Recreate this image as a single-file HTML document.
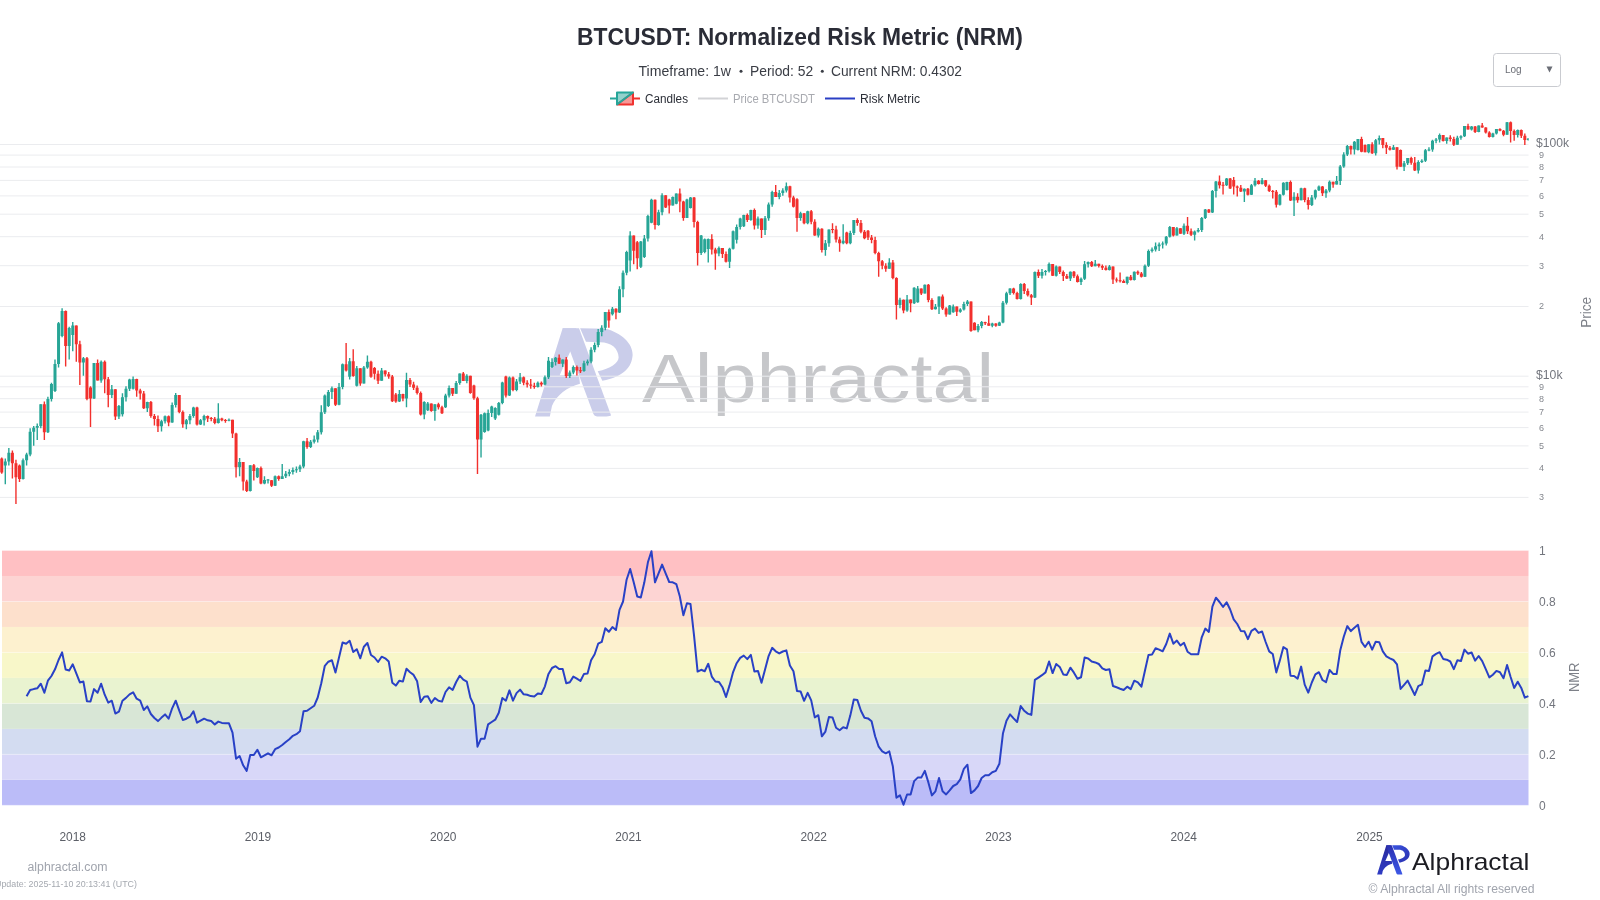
<!DOCTYPE html>
<html><head><meta charset="utf-8"><style>
html,body{margin:0;padding:0;background:#fff;width:1600px;height:900px;overflow:hidden;position:relative}
svg text{font-family:"Liberation Sans",sans-serif}
</style></head><body>
<svg width="1600" height="900" viewBox="0 0 1600 900" style="position:absolute;left:0;top:0;will-change:transform">
<defs>
<linearGradient id="lgL" x1="0" y1="0" x2="0" y2="1"><stop offset="0" stop-color="#2a2a9e"/><stop offset="1" stop-color="#2f3cc4"/></linearGradient>
<linearGradient id="lgR" x1="0" y1="0" x2="0" y2="1"><stop offset="0" stop-color="#2b30b0"/><stop offset="1" stop-color="#3d58e6"/></linearGradient>
<linearGradient id="lgB" x1="0" y1="0" x2="1" y2="1"><stop offset="0" stop-color="#3a55e0"/><stop offset="1" stop-color="#2a2fae"/></linearGradient>
<g id="apL"><path d="M115,778 L322,116 L425,116 L379,291 L300,470 L445,470 L452,532 C360,555 272,620 242,700 L226,778 Z"/></g>
<g id="apR"><path d="M322,116 L445,116 L685,770 Q680,778 650,778 L580,778 Q560,776 553,760 L379,291 Z"/></g>
<g id="apB"><path d="M453,116 L646,120 C760,150 850,230 847,317 C840,410 780,480 620,510 L585,440 C680,420 742,380 742,335 C740,270 690,221 602,221 L497,217 Z"/></g>
</defs>
<g transform="translate(519.7,312.7) scale(0.13333)" fill="#cacdea"><use href="#apL"/><use href="#apR"/><use href="#apB"/></g>
<text x="642" y="401.9" font-size="69" fill="#c6c7ca" textLength="352" lengthAdjust="spacingAndGlyphs">Alphractal</text>
<line x1="0" x2="1528.5" y1="497.4" y2="497.4" stroke="#ebecef" stroke-width="1"/>
<text x="1539" y="500.3" font-size="9" fill="#84878e">3</text>
<line x1="0" x2="1528.5" y1="468.4" y2="468.4" stroke="#ebecef" stroke-width="1"/>
<text x="1539" y="471.3" font-size="9" fill="#84878e">4</text>
<line x1="0" x2="1528.5" y1="445.9" y2="445.9" stroke="#ebecef" stroke-width="1"/>
<text x="1539" y="448.8" font-size="9" fill="#84878e">5</text>
<line x1="0" x2="1528.5" y1="427.6" y2="427.6" stroke="#ebecef" stroke-width="1"/>
<text x="1539" y="430.5" font-size="9" fill="#84878e">6</text>
<line x1="0" x2="1528.5" y1="412.1" y2="412.1" stroke="#ebecef" stroke-width="1"/>
<text x="1539" y="415.0" font-size="9" fill="#84878e">7</text>
<line x1="0" x2="1528.5" y1="398.7" y2="398.7" stroke="#ebecef" stroke-width="1"/>
<text x="1539" y="401.6" font-size="9" fill="#84878e">8</text>
<line x1="0" x2="1528.5" y1="386.8" y2="386.8" stroke="#ebecef" stroke-width="1"/>
<text x="1539" y="389.7" font-size="9" fill="#84878e">9</text>
<line x1="0" x2="1528.5" y1="376.2" y2="376.2" stroke="#ebecef" stroke-width="1"/>
<text x="1536" y="378.8" font-size="13" fill="#73767e" textLength="26.5" lengthAdjust="spacingAndGlyphs">$10k</text>
<line x1="0" x2="1528.5" y1="306.5" y2="306.5" stroke="#ebecef" stroke-width="1"/>
<text x="1539" y="309.4" font-size="9" fill="#84878e">2</text>
<line x1="0" x2="1528.5" y1="265.7" y2="265.7" stroke="#ebecef" stroke-width="1"/>
<text x="1539" y="268.6" font-size="9" fill="#84878e">3</text>
<line x1="0" x2="1528.5" y1="236.7" y2="236.7" stroke="#ebecef" stroke-width="1"/>
<text x="1539" y="239.6" font-size="9" fill="#84878e">4</text>
<line x1="0" x2="1528.5" y1="214.2" y2="214.2" stroke="#ebecef" stroke-width="1"/>
<text x="1539" y="217.1" font-size="9" fill="#84878e">5</text>
<line x1="0" x2="1528.5" y1="195.9" y2="195.9" stroke="#ebecef" stroke-width="1"/>
<text x="1539" y="198.8" font-size="9" fill="#84878e">6</text>
<line x1="0" x2="1528.5" y1="180.4" y2="180.4" stroke="#ebecef" stroke-width="1"/>
<text x="1539" y="183.3" font-size="9" fill="#84878e">7</text>
<line x1="0" x2="1528.5" y1="167.0" y2="167.0" stroke="#ebecef" stroke-width="1"/>
<text x="1539" y="169.9" font-size="9" fill="#84878e">8</text>
<line x1="0" x2="1528.5" y1="155.1" y2="155.1" stroke="#ebecef" stroke-width="1"/>
<text x="1539" y="158.0" font-size="9" fill="#84878e">9</text>
<line x1="0" x2="1528.5" y1="144.5" y2="144.5" stroke="#ebecef" stroke-width="1"/>
<text x="1536" y="147.1" font-size="13" fill="#73767e" textLength="33" lengthAdjust="spacingAndGlyphs">$100k</text>
<rect x="2" y="779.82" width="1526.5" height="25.48" fill="#bbbcf8"/>
<rect x="2" y="754.34" width="1526.5" height="25.48" fill="#d8d7f8"/>
<rect x="2" y="728.86" width="1526.5" height="25.48" fill="#d3dcf1"/>
<rect x="2" y="703.38" width="1526.5" height="25.48" fill="#d8e6d6"/>
<rect x="2" y="677.90" width="1526.5" height="25.48" fill="#e9f3d0"/>
<rect x="2" y="652.42" width="1526.5" height="25.48" fill="#f8f7c9"/>
<rect x="2" y="626.94" width="1526.5" height="25.48" fill="#fdf1cf"/>
<rect x="2" y="601.46" width="1526.5" height="25.48" fill="#fde0cc"/>
<rect x="2" y="575.98" width="1526.5" height="25.48" fill="#fdd4d3"/>
<rect x="2" y="550.50" width="1526.5" height="25.48" fill="#ffc0c3"/>
<line x1="2" x2="1528.5" y1="805.3" y2="805.3" stroke="#ffffff" stroke-opacity="0.3" stroke-width="1"/>
<text x="1539" y="809.6" font-size="12" fill="#73767e">0</text>
<line x1="2" x2="1528.5" y1="754.3" y2="754.3" stroke="#ffffff" stroke-opacity="0.3" stroke-width="1"/>
<text x="1539" y="758.6" font-size="12" fill="#73767e">0.2</text>
<line x1="2" x2="1528.5" y1="703.4" y2="703.4" stroke="#ffffff" stroke-opacity="0.3" stroke-width="1"/>
<text x="1539" y="707.7" font-size="12" fill="#73767e">0.4</text>
<line x1="2" x2="1528.5" y1="652.4" y2="652.4" stroke="#ffffff" stroke-opacity="0.3" stroke-width="1"/>
<text x="1539" y="656.7" font-size="12" fill="#73767e">0.6</text>
<line x1="2" x2="1528.5" y1="601.5" y2="601.5" stroke="#ffffff" stroke-opacity="0.3" stroke-width="1"/>
<text x="1539" y="605.8" font-size="12" fill="#73767e">0.8</text>
<line x1="2" x2="1528.5" y1="550.5" y2="550.5" stroke="#ffffff" stroke-opacity="0.3" stroke-width="1"/>
<text x="1539" y="554.8" font-size="12" fill="#73767e">1</text>
<text x="72.75" y="840.9" font-size="12.5" fill="#5d6068" text-anchor="middle" textLength="26.5" lengthAdjust="spacingAndGlyphs">2018</text>
<text x="258" y="840.9" font-size="12.5" fill="#5d6068" text-anchor="middle" textLength="26.5" lengthAdjust="spacingAndGlyphs">2019</text>
<text x="443.25" y="840.9" font-size="12.5" fill="#5d6068" text-anchor="middle" textLength="26.5" lengthAdjust="spacingAndGlyphs">2020</text>
<text x="628.5" y="840.9" font-size="12.5" fill="#5d6068" text-anchor="middle" textLength="26.5" lengthAdjust="spacingAndGlyphs">2021</text>
<text x="813.75" y="840.9" font-size="12.5" fill="#5d6068" text-anchor="middle" textLength="26.5" lengthAdjust="spacingAndGlyphs">2022</text>
<text x="998.5" y="840.9" font-size="12.5" fill="#5d6068" text-anchor="middle" textLength="26.5" lengthAdjust="spacingAndGlyphs">2023</text>
<text x="1183.75" y="840.9" font-size="12.5" fill="#5d6068" text-anchor="middle" textLength="26.5" lengthAdjust="spacingAndGlyphs">2024</text>
<text x="1369.5" y="840.9" font-size="12.5" fill="#5d6068" text-anchor="middle" textLength="26.5" lengthAdjust="spacingAndGlyphs">2025</text>
<text x="0" y="0" font-size="15" fill="#7d8088" text-anchor="middle" textLength="31" lengthAdjust="spacingAndGlyphs" transform="translate(1590.8,312.3) rotate(-90)">Price</text>
<text x="0" y="0" font-size="14.5" fill="#7d8088" text-anchor="middle" textLength="29.6" lengthAdjust="spacingAndGlyphs" transform="translate(1578.5,677.3) rotate(-90)">NMR</text>
<text x="577" y="44.9" font-size="23.4" fill="#2a2c36" font-weight="bold" textLength="446" lengthAdjust="spacingAndGlyphs">BTCUSDT: Normalized Risk Metric (NRM)</text>
<text x="638.5" y="75.85" font-size="14.5" fill="#3a3d45" textLength="92.5" lengthAdjust="spacingAndGlyphs">Timeframe: 1w</text>
<circle cx="741" cy="71.2" r="1.5" fill="#3a3d45"/>
<text x="750" y="75.85" font-size="14.5" fill="#3a3d45" textLength="63.2" lengthAdjust="spacingAndGlyphs">Period: 52</text>
<circle cx="822.3" cy="71.2" r="1.5" fill="#3a3d45"/>
<text x="831" y="75.85" font-size="14.5" fill="#3a3d45" textLength="131" lengthAdjust="spacingAndGlyphs">Current NRM: 0.4302</text>
<g transform="translate(625,98.5)" stroke-width="2" stroke-linejoin="round"><path d="M15,0H8M8,-6V6H-8Z" stroke="#f0322f" fill="rgba(240,50,47,0.5)"/><path d="M-15,0H-8M-8,6V-6H8Z" stroke="#26a69a" fill="rgba(38,166,154,0.5)"/></g>
<text x="645" y="102.5" font-size="12" fill="#2b2e37" textLength="43" lengthAdjust="spacingAndGlyphs">Candles</text>
<line x1="698" x2="728" y1="98.5" y2="98.5" stroke="#d2d3d6" stroke-width="2"/>
<text x="733" y="102.5" font-size="12" fill="#a8aab0" textLength="82" lengthAdjust="spacingAndGlyphs">Price BTCUSDT</text>
<line x1="825" x2="855" y1="98.5" y2="98.5" stroke="#2a3fc4" stroke-width="2"/>
<text x="860" y="102.5" font-size="12" fill="#2b2e37" textLength="60" lengthAdjust="spacingAndGlyphs">Risk Metric</text>
<rect x="1493.5" y="53.5" width="67" height="33" rx="3" fill="#fff" stroke="#c9cbd0" stroke-width="1"/>
<text x="1505" y="73" font-size="10" fill="#6b6e76">Log</text>
<path d="M1546.5,66.5h6l-3,6z" fill="#6b6e76"/>
<text x="27.5" y="870.75" font-size="12.5" fill="#a0a4ad" textLength="80" lengthAdjust="spacingAndGlyphs">alphractal.com</text>
<text x="-5" y="886.5" font-size="9" fill="#a5a9b0" textLength="142" lengthAdjust="spacingAndGlyphs">Update: 2025-11-10 20:13:41 (UTC)</text>
<text x="1368.5" y="892.5" font-size="12.8" fill="#a0a4ad" textLength="166" lengthAdjust="spacingAndGlyphs">© Alphractal All rights reserved</text>
<g transform="translate(1372,840) scale(0.04444)"><use href="#apL" fill="url(#lgL)"/><use href="#apR" fill="url(#lgR)"/><use href="#apB" fill="url(#lgB)"/></g>
<text x="1412" y="869.75" font-size="24" fill="#1c1c22" textLength="117.5" lengthAdjust="spacingAndGlyphs">Alphractal</text>
<defs><clipPath id="pc"><rect x="0" y="110" width="1528.5" height="400"/></clipPath></defs>
<g clip-path="url(#pc)">
<path d="M5.29 458.5V484.2M8.84 448.1V465.5M23.05 458.5V479.5M26.60 452.7V465.5M30.15 428.2V456.2M33.70 425.9V445.7M37.25 423.6V439.9M40.80 404.3V428.2M47.90 396.8V432.9M51.45 382.8V401.4M55.00 359.5V392.1M58.55 322.1V367.6M62.10 308.2V337.3M69.20 326.8V359.5M72.75 322.1V351.3M83.40 357.1V375.8M94.05 363.0V399.1M101.15 360.6V382.8M111.80 385.1V397.9M118.90 404.9V418.9M122.45 393.3V416.6M126.00 386.3V401.4M129.55 378.7V390.9M133.11 376.5V389.5M147.31 401.8V411.9M161.51 419.8V431.4M165.06 415.5V423.5M172.16 402.5V422.7M175.71 393.1V407.6M186.36 419.1V429.2M189.91 414.1V424.2M193.46 406.8V417.7M200.56 419.1V424.9M204.11 414.8V425.6M218.31 403.2V423.5M228.96 418.4V421.3M239.61 458.1V476.2M250.26 465.3V491.4M257.37 467.4V478.1M264.47 476.3V484.3M268.02 479.0V483.4M275.12 475.4V486.1M282.22 463.9V479.0M285.77 471.0V478.1M289.32 469.2V476.3M292.87 467.4V474.6M296.42 466.6V472.8M299.97 464.8V471.9M303.52 440.8V468.3M310.62 439.9V447.9M314.17 435.4V443.4M317.72 430.1V442.6M321.27 405.2V434.6M324.82 394.6V414.1M328.37 390.1V407.0M331.92 386.6V399.0M339.02 383.0V405.2M342.57 363.4V389.2M349.67 358.1V379.4M356.77 366.1V386.6M363.87 366.1V383.4M367.42 355.4V368.8M381.63 367.9V380.8M399.38 390.0V402.0M406.48 372.8V407.3M424.23 401.3V419.3M427.78 402.0V411.0M434.88 404.3V420.8M445.53 393.8V408.0M449.08 385.5V397.5M456.18 381.0V393.8M459.73 373.5V384.8M466.83 374.3V383.3M481.03 414.0V457.5M484.58 412.5V432.8M488.14 409.5V431.3M491.69 405.8V417.0M495.24 407.3V420.0M498.79 402.0V415.5M502.34 381.8V404.3M509.44 376.5V396.0M516.54 379.1V391.3M520.09 373.0V384.0M537.84 381.5V387.6M544.94 375.4V385.2M548.49 357.1V379.1M552.04 358.3V368.1M555.59 357.1V365.6M562.69 359.5V366.9M569.79 370.5V377.9M573.34 365.6V374.2M583.99 360.8V371.7M587.54 359.5V365.6M591.09 347.3V363.2M594.64 342.4V352.2M598.19 329.0V347.3M601.74 325.3V336.3M605.29 311.9V330.2M612.40 307.0V315.6M619.50 286.3V313.1M623.05 270.4V297.2M626.60 250.8V275.3M630.15 231.3V271.6M640.80 241.0V267.9M644.35 234.9V258.1M647.90 214.7V241.6M651.45 198.8V223.3M658.55 209.8V225.7M662.10 193.3V215.3M672.75 196.4V205.6M676.30 193.6V204.3M686.95 198.8V218.1M690.50 197.0V208.6M701.15 234.9V255.1M704.70 238.6V253.2M708.25 238.6V262.4M718.90 246.5V256.3M729.56 247.7V267.9M733.11 230.6V249.6M736.66 224.5V243.5M740.21 217.8V229.4M743.76 214.7V227.0M750.86 209.8V220.8M757.96 216.6V228.8M765.06 216.0V234.9M768.61 202.5V220.8M772.16 190.8V206.7M779.26 190.0V199.2M782.81 188.3V195.8M786.36 182.5V192.5M800.56 211.7V220.8M807.66 210.8V224.2M818.31 227.5V237.5M825.41 240.0V255.8M828.96 229.6V246.7M843.17 224.2V244.2M850.27 230.8V244.2M853.82 220.0V235.0M889.32 258.3V268.8M899.97 297.8V308.3M907.07 295.0V311.7M914.17 287.2V303.9M917.72 286.1V302.8M924.82 284.4V293.6M935.47 303.9V309.4M939.02 296.4V313.9M949.67 305.0V314.4M953.22 304.4V312.8M960.33 308.3V312.8M963.88 301.7V310.6M967.43 300.0V306.1M978.08 323.9V332.2M981.63 321.1V328.3M992.28 322.8V327.2M999.38 321.7V326.1M1002.93 301.1V323.3M1006.48 291.7V304.4M1010.03 288.3V295.0M1020.68 283.3V299.4M1034.88 271.5V298.0M1041.98 269.0V278.5M1045.53 270.0V275.5M1049.08 262.5V272.5M1056.18 265.5V276.5M1070.38 271.5V281.0M1081.04 277.5V285.0M1084.59 261.0V280.0M1088.14 261.5V267.5M1095.24 260.0V266.2M1109.44 265.0V270.5M1127.19 276.8V284.5M1134.29 271.5V280.5M1144.94 264.5V277.0M1148.49 249.5V267.0M1152.04 247.5V252.5M1155.59 242.5V251.5M1159.14 242.5V251.0M1162.69 241.5V248.5M1166.24 236.0V245.5M1169.79 226.0V237.5M1176.89 227.0V235.5M1183.99 223.5V235.0M1194.64 230.5V240.5M1198.20 228.0V232.5M1201.75 217.0V232.0M1205.30 209.0V219.0M1212.40 190.0V213.0M1215.95 181.0V197.5M1226.60 178.0V186.0M1244.35 188.5V202.0M1251.45 184.0V195.0M1255.00 178.0V186.5M1262.10 178.0V184.5M1279.85 193.9V205.6M1283.40 182.2V195.6M1286.95 181.7V190.6M1294.05 192.2V216.1M1301.15 187.8V200.3M1311.80 195.0V206.1M1315.36 189.4V199.4M1318.91 185.6V191.1M1326.01 188.9V197.8M1329.56 180.6V192.2M1336.66 176.1V184.4M1340.21 165.0V185.0M1343.76 152.2V167.8M1347.31 145.0V156.1M1354.41 141.1V154.4M1357.96 138.9V150.6M1368.61 144.2V153.3M1375.71 138.9V155.6M1379.26 135.6V144.4M1393.46 145.0V150.0M1404.11 161.1V171.1M1407.66 158.0V165.1M1418.31 160.2V173.6M1421.86 159.3V162.9M1425.41 149.1V162.0M1428.96 147.3V151.3M1432.51 139.8V151.8M1436.07 138.0V143.3M1439.62 133.6V142.4M1446.72 137.6V143.8M1457.37 135.8V144.7M1460.92 135.3V139.8M1464.47 126.0V137.1M1471.57 126.0V130.4M1478.67 125.6V132.2M1492.87 132.7V137.6M1496.42 129.1V134.4M1507.07 122.0V134.7M1517.72 129.6V137.6M1528.37 138.0V140.7" stroke="#27a596" stroke-width="1.4" fill="none"/>
<path d="M1.74 457.4V473.7M12.39 450.4V478.4M15.95 459.7V504.0M19.50 464.4V481.9M44.35 401.4V439.9M65.65 310.5V366.4M76.30 325.6V361.8M79.85 340.8V385.1M86.95 357.1V400.3M90.50 386.3V427.1M97.60 359.5V380.4M104.70 360.6V393.3M108.25 376.9V407.3M115.35 389.2V420.1M136.66 378.7V396.7M140.21 388.8V399.6M143.76 390.9V409.0M150.86 401.1V417.7M154.41 414.1V425.6M157.96 415.5V432.1M168.61 415.5V426.3M179.26 394.9V413.3M182.81 410.5V427.8M197.01 406.8V425.6M207.66 415.5V422.0M211.21 417.0V421.3M214.76 417.0V424.2M221.86 417.7V421.3M225.41 419.1V422.7M232.51 419.8V437.9M236.06 432.8V477.6M243.16 462.1V490.6M246.71 479.8V492.1M253.82 463.9V480.5M260.92 466.6V484.3M271.57 479.9V487.0M278.67 475.4V480.8M307.07 438.1V448.8M335.47 388.3V406.1M346.12 343.0V371.4M353.22 349.2V376.8M360.32 368.3V385.7M370.98 360.8V377.7M374.53 367.0V379.4M378.08 370.6V383.9M385.18 370.4V376.5M388.73 372.0V378.8M392.28 375.0V402.0M395.83 393.0V402.8M402.93 393.8V401.3M410.03 378.0V387.0M413.58 381.8V390.0M417.13 385.5V394.5M420.68 391.5V415.5M431.33 403.5V411.8M438.43 402.8V409.5M441.98 405.8V414.0M452.63 388.1V396.0M463.28 372.0V381.0M470.38 375.8V393.8M473.93 384.8V399.8M477.48 396.8V474.1M505.89 375.8V397.5M512.99 376.6V391.3M523.64 376.6V385.2M527.19 380.3V387.6M530.74 379.1V388.8M534.29 382.7V388.8M541.39 381.5V386.4M559.14 354.6V363.8M566.24 357.1V377.9M576.89 365.6V375.4M580.44 366.9V373.0M608.85 309.5V327.8M615.95 308.2V319.2M633.70 235.6V264.3M637.25 241.1V269.2M655.00 199.4V229.4M665.65 195.2V208.0M669.20 198.8V213.5M679.85 188.4V212.3M683.40 200.7V220.8M694.05 197.0V227.6M697.60 220.8V265.5M711.80 234.3V254.5M715.35 247.7V269.7M722.45 248.0V258.1M726.01 251.4V262.4M747.31 213.5V222.1M754.41 208.6V229.4M761.51 218.4V238.0M775.71 185.0V197.1M789.91 185.8V202.5M793.46 195.8V207.5M797.01 198.3V231.7M804.11 213.3V224.2M811.21 210.0V224.2M814.76 219.2V235.8M821.86 228.3V252.5M832.51 223.3V233.3M836.06 225.8V242.5M839.61 236.7V251.7M846.72 231.7V244.2M857.37 218.3V225.8M860.92 220.0V233.3M864.47 230.0V239.2M868.02 230.0V240.0M871.57 235.0V243.3M875.12 236.7V254.2M878.67 251.7V276.7M882.22 260.0V269.2M885.77 263.3V271.7M892.87 260.0V279.2M896.42 277.2V319.4M903.52 299.4V313.3M910.62 299.4V312.2M921.27 288.6V295.0M928.37 283.9V302.2M931.92 298.3V310.0M942.57 294.4V310.0M946.12 307.2V316.7M956.77 306.4V316.1M970.98 301.4V331.7M974.53 322.2V330.3M985.18 321.7V325.0M988.73 315.6V325.8M995.83 323.3V326.7M1013.58 287.8V294.4M1017.13 291.7V299.4M1024.23 283.0V294.0M1027.78 288.5V296.5M1031.33 294.0V305.0M1038.43 269.5V278.0M1052.63 264.0V276.0M1059.73 266.5V274.0M1063.28 270.5V281.0M1066.83 274.0V279.0M1073.93 271.0V278.0M1077.48 274.5V282.5M1091.69 261.0V267.0M1098.79 263.8V267.5M1102.34 264.5V270.0M1105.89 265.5V270.5M1112.99 266.5V284.0M1116.54 277.5V282.5M1120.09 272.5V282.5M1123.64 279.5V283.0M1130.74 275.0V280.5M1137.84 270.5V275.0M1141.39 272.0V277.5M1173.34 227.0V236.5M1180.44 228.2V233.8M1187.54 217.0V234.0M1191.09 228.5V236.0M1208.85 209.0V213.0M1219.50 175.5V188.5M1223.05 182.0V194.5M1230.15 178.0V189.0M1233.70 177.0V194.5M1237.25 185.5V196.5M1240.80 185.0V192.0M1247.90 188.0V195.5M1258.55 180.0V184.5M1265.65 180.0V187.0M1269.20 184.5V192.0M1272.75 190.0V198.5M1276.30 190.0V207.5M1290.50 180.6V201.1M1297.60 193.3V202.8M1304.70 187.8V202.2M1308.25 197.2V209.4M1322.46 186.1V196.1M1333.11 181.7V187.8M1350.86 145.6V154.4M1361.51 136.7V152.2M1365.06 144.4V152.2M1372.16 142.2V153.9M1382.81 138.1V148.3M1386.36 142.2V153.9M1389.91 146.1V150.6M1397.01 147.2V169.4M1400.56 149.4V166.7M1411.21 156.7V164.7M1414.76 157.1V170.9M1443.17 134.9V141.6M1450.27 135.3V141.6M1453.82 136.7V146.0M1468.02 123.8V129.6M1475.12 126.0V133.1M1482.22 122.9V127.8M1485.77 127.3V133.6M1489.32 131.3V137.6M1499.97 128.2V131.3M1503.52 130.0V136.2M1510.62 121.6V142.4M1514.17 129.6V140.7M1521.27 129.6V138.0M1524.82 133.6V145.1" stroke="#f2302d" stroke-width="1.4" fill="none"/>
<path d="M3.79 461.5h3.0V465.5h-3.0ZM7.34 452.7h3.0V461.5h-3.0ZM21.55 460.3h3.0V478.9h-3.0ZM25.10 454.5h3.0V460.3h-3.0ZM28.65 431.7h3.0V454.5h-3.0ZM32.20 427.7h3.0V431.7h-3.0ZM35.75 425.9h3.0V427.7h-3.0ZM39.30 404.3h3.0V425.9h-3.0ZM46.40 399.1h3.0V432.3h-3.0ZM49.95 383.9h3.0V399.1h-3.0ZM53.50 364.1h3.0V390.9h-3.0ZM57.05 323.3h3.0V364.1h-3.0ZM60.60 311.1h3.0V336.1h-3.0ZM67.70 328.0h3.0V346.0h-3.0ZM71.25 325.6h3.0V335.0h-3.0ZM81.90 358.3h3.0V362.4h-3.0ZM92.55 363.0h3.0V398.5h-3.0ZM99.65 361.8h3.0V380.4h-3.0ZM110.30 389.2h3.0V395.0h-3.0ZM117.40 406.1h3.0V416.6h-3.0ZM120.95 397.3h3.0V414.2h-3.0ZM124.50 388.8h3.0V397.3h-3.0ZM128.05 379.4h3.0V388.8h-3.0ZM131.61 379.0h3.0V388.8h-3.0ZM145.81 402.1h3.0V408.3h-3.0ZM160.01 421.3h3.0V426.3h-3.0ZM163.56 416.2h3.0V421.3h-3.0ZM170.66 405.0h3.0V422.4h-3.0ZM174.21 394.9h3.0V405.0h-3.0ZM184.86 420.2h3.0V424.2h-3.0ZM188.41 415.9h3.0V420.2h-3.0ZM191.96 407.6h3.0V415.9h-3.0ZM199.06 420.2h3.0V424.5h-3.0ZM202.61 415.9h3.0V420.2h-3.0ZM216.81 418.4h3.0V423.1h-3.0ZM227.46 419.8h3.0V420.8h-3.0ZM238.11 462.1h3.0V467.2h-3.0ZM248.76 465.3h3.0V491.0h-3.0ZM255.87 467.9h3.0V477.2h-3.0ZM262.97 479.9h3.0V483.4h-3.0ZM266.52 479.6h3.0V480.6h-3.0ZM273.62 476.3h3.0V485.7h-3.0ZM280.72 476.3h3.0V479.0h-3.0ZM284.27 473.7h3.0V476.3h-3.0ZM287.82 471.9h3.0V473.7h-3.0ZM291.37 470.1h3.0V471.9h-3.0ZM294.92 469.2h3.0V470.2h-3.0ZM298.47 466.6h3.0V469.2h-3.0ZM302.02 441.2h3.0V466.6h-3.0ZM309.12 441.7h3.0V447.0h-3.0ZM312.67 439.4h3.0V441.7h-3.0ZM316.22 432.3h3.0V439.4h-3.0ZM319.77 412.3h3.0V432.3h-3.0ZM323.32 395.4h3.0V412.3h-3.0ZM326.87 391.9h3.0V406.1h-3.0ZM330.42 388.3h3.0V391.9h-3.0ZM337.52 387.0h3.0V404.8h-3.0ZM341.07 364.3h3.0V387.0h-3.0ZM348.17 361.2h3.0V376.8h-3.0ZM355.27 368.3h3.0V385.7h-3.0ZM362.37 367.4h3.0V383.4h-3.0ZM365.92 361.7h3.0V367.4h-3.0ZM380.13 370.4h3.0V380.8h-3.0ZM397.88 394.1h3.0V401.6h-3.0ZM404.98 379.9h3.0V398.6h-3.0ZM422.73 402.0h3.0V414.4h-3.0ZM426.28 403.5h3.0V410.3h-3.0ZM433.38 404.3h3.0V411.0h-3.0ZM444.03 395.6h3.0V407.3h-3.0ZM447.58 388.1h3.0V395.6h-3.0ZM454.68 382.9h3.0V393.8h-3.0ZM458.23 373.5h3.0V382.9h-3.0ZM465.33 375.8h3.0V381.0h-3.0ZM479.53 414.8h3.0V439.5h-3.0ZM483.08 413.3h3.0V432.0h-3.0ZM486.64 412.9h3.0V430.5h-3.0ZM490.19 406.5h3.0V412.9h-3.0ZM493.74 408.0h3.0V418.5h-3.0ZM497.29 403.1h3.0V414.8h-3.0ZM500.84 382.5h3.0V403.1h-3.0ZM507.94 377.6h3.0V395.6h-3.0ZM515.04 381.5h3.0V390.1h-3.0ZM518.59 377.2h3.0V381.5h-3.0ZM536.34 382.7h3.0V387.0h-3.0ZM543.44 377.2h3.0V384.6h-3.0ZM546.99 360.8h3.0V377.2h-3.0ZM550.54 362.0h3.0V366.9h-3.0ZM554.09 357.7h3.0V362.0h-3.0ZM561.19 359.5h3.0V363.8h-3.0ZM568.29 372.4h3.0V376.0h-3.0ZM571.84 366.9h3.0V372.4h-3.0ZM582.49 363.2h3.0V371.1h-3.0ZM586.04 361.4h3.0V363.2h-3.0ZM589.59 349.8h3.0V361.4h-3.0ZM593.14 344.9h3.0V349.8h-3.0ZM596.69 332.1h3.0V344.9h-3.0ZM600.24 327.8h3.0V332.1h-3.0ZM603.79 311.9h3.0V327.8h-3.0ZM610.90 308.8h3.0V314.3h-3.0ZM618.00 289.3h3.0V312.5h-3.0ZM621.55 272.8h3.0V289.3h-3.0ZM625.10 252.1h3.0V272.8h-3.0ZM628.65 235.6h3.0V260.6h-3.0ZM639.30 241.6h3.0V266.7h-3.0ZM642.85 238.6h3.0V256.9h-3.0ZM646.40 216.0h3.0V238.6h-3.0ZM649.95 199.8h3.0V222.7h-3.0ZM657.05 212.3h3.0V225.1h-3.0ZM660.60 195.2h3.0V212.3h-3.0ZM671.25 197.0h3.0V205.6h-3.0ZM674.80 193.6h3.0V203.7h-3.0ZM685.45 199.4h3.0V218.1h-3.0ZM689.00 197.6h3.0V208.0h-3.0ZM699.65 235.5h3.0V252.9h-3.0ZM703.20 239.2h3.0V252.0h-3.0ZM706.75 238.9h3.0V249.0h-3.0ZM717.40 248.0h3.0V253.5h-3.0ZM728.06 248.7h3.0V261.8h-3.0ZM731.61 231.2h3.0V248.7h-3.0ZM735.16 227.0h3.0V239.8h-3.0ZM738.71 218.4h3.0V227.0h-3.0ZM742.26 215.0h3.0V226.3h-3.0ZM749.36 210.1h3.0V219.9h-3.0ZM756.46 218.4h3.0V225.4h-3.0ZM763.56 218.3h3.0V230.0h-3.0ZM767.11 204.6h3.0V218.3h-3.0ZM770.66 192.1h3.0V204.6h-3.0ZM777.76 192.9h3.0V197.1h-3.0ZM781.31 190.4h3.0V192.9h-3.0ZM784.86 186.2h3.0V190.4h-3.0ZM799.06 213.3h3.0V217.9h-3.0ZM806.16 211.2h3.0V223.3h-3.0ZM816.81 228.8h3.0V235.4h-3.0ZM823.91 243.3h3.0V250.0h-3.0ZM827.46 229.6h3.0V243.3h-3.0ZM841.67 240.8h3.0V243.3h-3.0ZM848.77 232.9h3.0V243.3h-3.0ZM852.32 220.0h3.0V232.9h-3.0ZM887.82 262.5h3.0V268.8h-3.0ZM898.47 299.7h3.0V305.0h-3.0ZM905.57 299.4h3.0V310.6h-3.0ZM912.67 287.8h3.0V303.3h-3.0ZM916.22 288.6h3.0V302.2h-3.0ZM923.32 284.7h3.0V293.6h-3.0ZM933.97 306.7h3.0V309.2h-3.0ZM937.52 296.4h3.0V306.7h-3.0ZM948.17 305.6h3.0V314.4h-3.0ZM951.72 306.4h3.0V312.2h-3.0ZM958.83 309.4h3.0V311.7h-3.0ZM962.38 303.9h3.0V309.4h-3.0ZM965.93 301.4h3.0V303.9h-3.0ZM976.58 326.1h3.0V330.3h-3.0ZM980.13 321.9h3.0V326.1h-3.0ZM990.78 323.6h3.0V325.8h-3.0ZM997.88 322.5h3.0V325.8h-3.0ZM1001.43 302.8h3.0V322.5h-3.0ZM1004.98 293.3h3.0V302.8h-3.0ZM1008.53 288.6h3.0V293.3h-3.0ZM1019.18 283.9h3.0V298.9h-3.0ZM1033.38 272.0h3.0V297.5h-3.0ZM1040.48 272.0h3.0V275.8h-3.0ZM1044.03 271.1h3.0V272.1h-3.0ZM1047.58 264.0h3.0V271.2h-3.0ZM1054.68 266.5h3.0V275.8h-3.0ZM1068.88 271.8h3.0V278.5h-3.0ZM1079.54 278.8h3.0V282.0h-3.0ZM1083.09 264.2h3.0V278.8h-3.0ZM1086.64 262.0h3.0V264.2h-3.0ZM1093.74 263.8h3.0V266.2h-3.0ZM1107.94 266.5h3.0V270.0h-3.0ZM1125.69 276.8h3.0V283.0h-3.0ZM1132.79 271.8h3.0V280.0h-3.0ZM1143.44 265.8h3.0V276.8h-3.0ZM1146.99 251.0h3.0V265.8h-3.0ZM1150.54 249.5h3.0V251.0h-3.0ZM1154.09 246.2h3.0V249.5h-3.0ZM1157.64 244.5h3.0V246.2h-3.0ZM1161.19 243.5h3.0V244.5h-3.0ZM1164.74 236.8h3.0V243.5h-3.0ZM1168.29 227.0h3.0V236.8h-3.0ZM1175.39 228.2h3.0V235.5h-3.0ZM1182.49 225.8h3.0V233.8h-3.0ZM1193.14 231.5h3.0V234.8h-3.0ZM1196.70 230.0h3.0V231.5h-3.0ZM1200.25 218.0h3.0V230.0h-3.0ZM1203.80 209.5h3.0V218.0h-3.0ZM1210.90 191.0h3.0V212.5h-3.0ZM1214.45 181.5h3.0V191.0h-3.0ZM1225.10 178.5h3.0V185.2h-3.0ZM1242.85 188.8h3.0V191.5h-3.0ZM1249.95 185.2h3.0V194.8h-3.0ZM1253.50 180.8h3.0V185.2h-3.0ZM1260.60 180.2h3.0V184.0h-3.0ZM1278.35 194.7h3.0V204.8h-3.0ZM1281.90 182.8h3.0V194.7h-3.0ZM1285.45 181.9h3.0V190.0h-3.0ZM1292.55 196.7h3.0V200.6h-3.0ZM1299.65 188.3h3.0V200.3h-3.0ZM1310.30 197.5h3.0V205.0h-3.0ZM1313.86 190.3h3.0V197.5h-3.0ZM1317.41 186.4h3.0V190.3h-3.0ZM1324.51 190.6h3.0V193.3h-3.0ZM1328.06 181.7h3.0V190.6h-3.0ZM1335.16 181.1h3.0V184.4h-3.0ZM1338.71 166.4h3.0V181.1h-3.0ZM1342.26 154.4h3.0V166.4h-3.0ZM1345.81 146.1h3.0V154.4h-3.0ZM1352.91 141.7h3.0V149.4h-3.0ZM1356.46 138.9h3.0V150.0h-3.0ZM1367.11 144.2h3.0V152.2h-3.0ZM1374.21 140.3h3.0V153.3h-3.0ZM1377.76 138.1h3.0V140.3h-3.0ZM1391.96 147.2h3.0V149.7h-3.0ZM1402.61 163.2h3.0V166.7h-3.0ZM1406.16 158.0h3.0V163.2h-3.0ZM1416.81 162.0h3.0V170.4h-3.0ZM1420.36 160.7h3.0V162.0h-3.0ZM1423.91 150.2h3.0V160.7h-3.0ZM1427.46 149.4h3.0V150.4h-3.0ZM1431.01 140.7h3.0V149.6h-3.0ZM1434.57 139.6h3.0V140.7h-3.0ZM1438.12 134.9h3.0V139.6h-3.0ZM1445.22 137.6h3.0V140.9h-3.0ZM1455.87 137.8h3.0V144.7h-3.0ZM1459.42 136.2h3.0V137.8h-3.0ZM1462.97 126.0h3.0V136.2h-3.0ZM1470.07 126.4h3.0V129.6h-3.0ZM1477.17 125.6h3.0V132.0h-3.0ZM1491.37 133.6h3.0V137.1h-3.0ZM1494.92 129.1h3.0V133.6h-3.0ZM1505.57 122.2h3.0V134.7h-3.0ZM1516.22 130.0h3.0V135.1h-3.0ZM1526.87 138.4h3.0V140.0h-3.0Z" fill="#27a596"/>
<path d="M0.24 458.5h3.0V472.5h-3.0ZM10.89 452.7h3.0V463.2h-3.0ZM14.45 463.2h3.0V477.2h-3.0ZM18.00 465.5h3.0V478.9h-3.0ZM42.85 404.3h3.0V432.3h-3.0ZM64.15 311.1h3.0V346.0h-3.0ZM74.80 325.6h3.0V344.3h-3.0ZM78.35 344.3h3.0V362.4h-3.0ZM85.45 358.3h3.0V399.1h-3.0ZM89.00 387.4h3.0V398.5h-3.0ZM96.10 363.0h3.0V380.4h-3.0ZM103.20 361.8h3.0V379.3h-3.0ZM106.75 379.3h3.0V395.0h-3.0ZM113.85 389.2h3.0V416.6h-3.0ZM135.16 379.0h3.0V390.6h-3.0ZM138.71 390.6h3.0V393.5h-3.0ZM142.26 393.5h3.0V408.3h-3.0ZM149.36 402.1h3.0V415.9h-3.0ZM152.91 415.9h3.0V419.1h-3.0ZM156.46 419.1h3.0V426.3h-3.0ZM167.11 416.2h3.0V422.4h-3.0ZM177.76 394.9h3.0V411.9h-3.0ZM181.31 411.9h3.0V424.2h-3.0ZM195.51 407.6h3.0V424.5h-3.0ZM206.16 415.9h3.0V418.4h-3.0ZM209.71 418.1h3.0V419.1h-3.0ZM213.26 418.8h3.0V423.1h-3.0ZM220.36 418.4h3.0V420.2h-3.0ZM223.91 420.0h3.0V421.0h-3.0ZM231.01 419.8h3.0V433.6h-3.0ZM234.56 433.6h3.0V467.2h-3.0ZM241.66 462.1h3.0V481.6h-3.0ZM245.21 481.6h3.0V491.0h-3.0ZM252.32 465.3h3.0V471.1h-3.0ZM259.42 467.9h3.0V483.4h-3.0ZM270.07 480.3h3.0V485.7h-3.0ZM277.17 476.3h3.0V479.0h-3.0ZM305.57 441.2h3.0V447.0h-3.0ZM333.97 388.3h3.0V404.8h-3.0ZM344.62 364.3h3.0V370.6h-3.0ZM351.72 361.2h3.0V375.9h-3.0ZM358.82 368.3h3.0V383.4h-3.0ZM369.48 361.7h3.0V376.8h-3.0ZM373.03 367.9h3.0V373.7h-3.0ZM376.58 373.7h3.0V380.8h-3.0ZM383.68 370.4h3.0V374.3h-3.0ZM387.23 374.3h3.0V376.5h-3.0ZM390.78 376.5h3.0V401.3h-3.0ZM394.33 394.5h3.0V401.6h-3.0ZM401.43 394.1h3.0V398.6h-3.0ZM408.53 379.9h3.0V384.4h-3.0ZM412.08 384.4h3.0V387.8h-3.0ZM415.63 387.8h3.0V393.0h-3.0ZM419.18 393.0h3.0V414.4h-3.0ZM429.83 403.5h3.0V411.0h-3.0ZM436.93 404.3h3.0V407.3h-3.0ZM440.48 407.3h3.0V413.3h-3.0ZM451.13 388.1h3.0V393.8h-3.0ZM461.78 373.5h3.0V381.0h-3.0ZM468.88 375.8h3.0V393.0h-3.0ZM472.43 385.5h3.0V398.3h-3.0ZM475.98 398.3h3.0V439.5h-3.0ZM504.39 376.5h3.0V395.6h-3.0ZM511.49 377.6h3.0V390.1h-3.0ZM522.14 377.2h3.0V382.7h-3.0ZM525.69 382.7h3.0V384.6h-3.0ZM529.24 384.6h3.0V385.8h-3.0ZM532.79 385.8h3.0V387.0h-3.0ZM539.89 382.7h3.0V384.6h-3.0ZM557.64 357.7h3.0V363.8h-3.0ZM564.74 359.5h3.0V376.0h-3.0ZM575.39 366.9h3.0V370.5h-3.0ZM578.94 370.3h3.0V371.3h-3.0ZM607.35 311.9h3.0V320.4h-3.0ZM614.45 308.8h3.0V312.5h-3.0ZM632.20 235.6h3.0V250.8h-3.0ZM635.75 242.3h3.0V258.2h-3.0ZM653.50 199.8h3.0V225.1h-3.0ZM664.15 195.2h3.0V207.4h-3.0ZM667.70 199.4h3.0V205.6h-3.0ZM678.35 193.6h3.0V201.6h-3.0ZM681.90 201.6h3.0V218.1h-3.0ZM692.55 197.6h3.0V222.1h-3.0ZM696.10 222.1h3.0V252.9h-3.0ZM710.30 238.9h3.0V249.6h-3.0ZM713.85 249.6h3.0V253.5h-3.0ZM720.95 248.0h3.0V253.9h-3.0ZM724.51 253.9h3.0V261.8h-3.0ZM745.81 215.0h3.0V219.9h-3.0ZM752.91 210.1h3.0V225.4h-3.0ZM760.01 218.4h3.0V230.0h-3.0ZM774.21 192.1h3.0V197.1h-3.0ZM788.41 186.2h3.0V197.5h-3.0ZM791.96 197.5h3.0V206.7h-3.0ZM795.51 199.2h3.0V217.9h-3.0ZM802.61 213.3h3.0V223.3h-3.0ZM809.71 211.2h3.0V221.7h-3.0ZM813.26 221.7h3.0V235.4h-3.0ZM820.36 228.8h3.0V250.0h-3.0ZM831.01 229.1h3.0V230.1h-3.0ZM834.56 229.6h3.0V239.6h-3.0ZM838.11 239.6h3.0V243.3h-3.0ZM845.22 232.5h3.0V243.3h-3.0ZM855.87 220.0h3.0V222.9h-3.0ZM859.42 222.9h3.0V231.7h-3.0ZM862.97 231.7h3.0V238.3h-3.0ZM866.52 230.8h3.0V237.5h-3.0ZM870.07 237.5h3.0V240.0h-3.0ZM873.62 240.0h3.0V252.9h-3.0ZM877.17 252.9h3.0V261.2h-3.0ZM880.72 261.2h3.0V265.8h-3.0ZM884.27 265.8h3.0V268.8h-3.0ZM891.37 262.5h3.0V278.1h-3.0ZM894.92 278.1h3.0V305.0h-3.0ZM902.02 299.7h3.0V310.6h-3.0ZM909.12 299.4h3.0V303.3h-3.0ZM919.77 288.6h3.0V293.6h-3.0ZM926.87 284.7h3.0V300.0h-3.0ZM930.42 300.0h3.0V309.2h-3.0ZM941.07 296.4h3.0V308.6h-3.0ZM944.62 308.6h3.0V314.4h-3.0ZM955.27 306.4h3.0V311.7h-3.0ZM969.48 301.4h3.0V331.1h-3.0ZM973.03 322.8h3.0V330.3h-3.0ZM983.68 321.9h3.0V323.3h-3.0ZM987.23 323.3h3.0V325.8h-3.0ZM994.33 323.6h3.0V325.8h-3.0ZM1012.08 288.6h3.0V293.1h-3.0ZM1015.63 293.1h3.0V298.9h-3.0ZM1022.73 283.9h3.0V291.0h-3.0ZM1026.28 291.0h3.0V295.2h-3.0ZM1029.83 295.2h3.0V297.5h-3.0ZM1036.93 272.0h3.0V275.8h-3.0ZM1051.13 264.0h3.0V275.8h-3.0ZM1058.23 266.5h3.0V272.0h-3.0ZM1061.78 272.0h3.0V276.0h-3.0ZM1065.33 276.0h3.0V278.5h-3.0ZM1072.43 271.8h3.0V276.2h-3.0ZM1075.98 276.2h3.0V282.0h-3.0ZM1090.19 262.0h3.0V266.2h-3.0ZM1097.29 263.8h3.0V266.0h-3.0ZM1100.84 266.0h3.0V267.8h-3.0ZM1104.39 267.8h3.0V270.0h-3.0ZM1111.49 266.5h3.0V279.5h-3.0ZM1115.04 279.5h3.0V280.5h-3.0ZM1118.59 280.2h3.0V281.2h-3.0ZM1122.14 281.0h3.0V283.0h-3.0ZM1129.24 276.8h3.0V280.0h-3.0ZM1136.34 271.8h3.0V273.5h-3.0ZM1139.89 273.5h3.0V276.8h-3.0ZM1171.84 227.0h3.0V235.5h-3.0ZM1178.94 228.2h3.0V233.8h-3.0ZM1186.04 225.8h3.0V231.2h-3.0ZM1189.59 231.2h3.0V234.8h-3.0ZM1207.35 209.5h3.0V212.5h-3.0ZM1218.00 181.5h3.0V185.2h-3.0ZM1221.55 184.8h3.0V185.8h-3.0ZM1228.65 178.5h3.0V188.5h-3.0ZM1232.20 180.0h3.0V186.5h-3.0ZM1235.75 186.5h3.0V187.8h-3.0ZM1239.30 187.8h3.0V191.5h-3.0ZM1246.40 188.8h3.0V194.8h-3.0ZM1257.05 180.8h3.0V184.0h-3.0ZM1264.15 180.2h3.0V185.8h-3.0ZM1267.70 185.8h3.0V191.0h-3.0ZM1271.25 190.9h3.0V191.9h-3.0ZM1274.80 191.8h3.0V204.8h-3.0ZM1289.00 181.9h3.0V200.6h-3.0ZM1296.10 196.7h3.0V200.3h-3.0ZM1303.20 188.3h3.0V200.0h-3.0ZM1306.75 200.0h3.0V205.0h-3.0ZM1320.96 186.4h3.0V193.3h-3.0ZM1331.61 181.7h3.0V184.4h-3.0ZM1349.36 146.1h3.0V149.4h-3.0ZM1360.01 138.9h3.0V151.7h-3.0ZM1363.56 145.0h3.0V152.2h-3.0ZM1370.66 144.2h3.0V153.3h-3.0ZM1381.31 138.1h3.0V145.0h-3.0ZM1384.86 145.0h3.0V147.8h-3.0ZM1388.41 147.8h3.0V149.7h-3.0ZM1395.51 147.2h3.0V166.7h-3.0ZM1399.06 150.0h3.0V166.7h-3.0ZM1409.71 158.0h3.0V162.7h-3.0ZM1413.26 162.7h3.0V170.4h-3.0ZM1441.67 134.9h3.0V140.9h-3.0ZM1448.77 137.6h3.0V139.1h-3.0ZM1452.32 139.1h3.0V144.7h-3.0ZM1466.52 126.0h3.0V129.6h-3.0ZM1473.62 126.4h3.0V132.0h-3.0ZM1480.72 125.6h3.0V127.6h-3.0ZM1484.27 127.6h3.0V132.4h-3.0ZM1487.82 132.4h3.0V137.1h-3.0ZM1498.47 129.1h3.0V130.7h-3.0ZM1502.02 130.7h3.0V134.7h-3.0ZM1509.12 122.2h3.0V131.1h-3.0ZM1512.67 131.1h3.0V135.1h-3.0ZM1519.77 130.0h3.0V135.8h-3.0ZM1523.32 135.8h3.0V140.0h-3.0Z" fill="#f2302d"/>
</g>
<polyline points="26.60,696.3 30.15,690.0 33.70,689.1 37.25,688.3 40.80,683.7 44.35,692.7 47.90,680.7 51.45,676.0 55.00,669.3 58.55,660.0 62.10,652.4 65.65,669.6 69.20,670.4 72.75,664.3 76.30,673.3 79.85,682.4 83.40,681.6 86.95,701.3 90.50,701.6 94.05,689.1 97.60,692.7 101.15,683.7 104.70,694.7 108.25,702.7 111.80,700.7 115.35,713.6 118.90,711.7 122.45,700.7 126.00,697.9 129.55,694.4 133.11,692.3 136.66,698.7 140.21,700.7 143.76,710.0 147.31,706.4 150.86,714.0 154.41,718.0 157.96,721.1 161.51,717.6 165.06,714.4 168.61,718.7 172.16,708.3 175.71,700.7 179.26,710.7 182.81,720.0 186.36,718.7 189.91,716.7 193.46,711.3 197.01,722.7 200.56,720.7 204.11,718.7 207.66,720.3 211.21,721.1 214.76,724.4 218.31,721.6 221.86,722.9 225.41,723.3 228.96,723.3 232.51,732.7 236.06,758.7 239.61,756.0 243.16,765.3 246.71,770.9 250.26,754.9 253.82,755.0 257.37,749.8 260.92,757.3 264.47,755.3 268.02,753.3 271.57,755.3 275.12,749.2 278.67,747.5 282.22,745.0 285.77,742.0 289.32,739.2 292.87,735.8 296.42,734.2 299.97,731.3 303.52,711.3 307.07,710.8 310.62,708.3 314.17,705.8 317.72,697.5 321.27,683.3 324.82,665.8 328.37,661.7 331.92,660.3 335.47,672.5 339.02,657.5 342.57,642.5 346.12,643.7 349.67,640.8 353.22,652.0 356.77,649.2 360.32,658.3 363.87,646.7 367.42,643.0 370.98,655.0 374.53,657.5 378.08,662.0 381.63,656.7 385.18,658.3 388.73,661.6 392.28,682.7 395.83,685.6 399.38,680.7 402.93,681.6 406.48,668.7 410.03,672.3 413.58,674.9 417.13,681.3 420.68,702.0 424.23,696.7 427.78,696.3 431.33,702.9 434.88,698.0 438.43,700.7 441.98,701.6 445.53,692.0 449.08,687.3 452.63,690.0 456.18,682.0 459.73,675.7 463.28,679.7 466.83,681.6 470.38,697.6 473.93,705.1 477.48,746.7 481.03,738.7 484.58,738.7 488.14,724.3 491.69,722.0 495.24,719.7 498.79,712.7 502.34,698.0 505.89,700.7 509.44,690.4 512.99,700.7 516.54,693.1 520.09,689.6 523.64,694.3 527.19,694.7 530.74,696.1 534.29,696.5 537.84,693.4 541.39,694.0 544.94,686.3 548.49,673.9 552.04,668.0 555.59,666.2 559.14,669.1 562.69,669.1 566.24,683.3 569.79,682.2 573.34,676.6 576.89,678.7 580.44,681.0 583.99,673.9 587.54,673.4 591.09,660.2 594.64,654.3 598.19,643.7 601.74,641.9 605.29,628.2 608.85,631.8 612.40,627.1 615.95,630.0 619.50,609.9 623.05,601.5 626.60,579.7 630.15,569.0 633.70,582.3 637.25,596.6 640.80,597.4 644.35,582.3 647.90,562.3 651.45,551.2 655.00,582.3 658.55,573.4 662.10,564.6 665.65,573.4 669.20,582.0 672.75,582.3 676.30,584.1 679.85,596.6 683.40,615.2 686.95,603.3 690.50,604.0 694.05,635.7 697.60,671.6 701.15,669.8 704.70,671.2 708.25,663.8 711.80,676.6 715.35,681.5 718.90,681.9 722.45,687.2 726.01,697.0 729.56,685.4 733.11,672.1 736.66,663.2 740.21,657.9 743.76,655.6 747.31,659.1 750.86,654.9 754.41,671.6 757.96,670.9 761.51,682.8 765.06,669.4 768.61,656.1 772.16,647.8 775.71,651.3 779.26,653.4 782.81,651.5 786.36,650.4 789.91,665.5 793.46,671.2 797.01,691.0 800.56,691.4 804.11,700.8 807.66,692.9 811.21,700.4 814.76,717.4 818.31,715.2 821.86,736.3 825.41,731.6 828.96,717.1 832.51,717.4 836.06,727.8 839.61,730.3 843.17,727.3 846.72,728.4 850.27,715.6 853.82,699.5 857.37,700.1 860.92,710.8 864.47,717.8 868.02,718.4 871.57,721.2 875.12,736.3 878.67,746.7 882.22,751.4 885.77,753.3 889.32,751.4 892.87,766.6 896.42,797.7 899.97,795.3 903.52,804.7 907.07,794.5 910.62,794.5 914.17,781.1 917.72,777.6 921.27,777.6 924.82,770.9 928.37,782.4 931.92,795.4 935.47,791.3 939.02,778.0 942.57,791.3 946.12,794.4 949.67,790.4 953.22,786.0 956.77,784.2 960.33,779.4 963.88,768.8 967.43,764.7 970.98,793.1 974.53,790.4 978.08,786.0 981.63,778.0 985.18,775.3 988.73,775.3 992.28,772.3 995.83,770.9 999.38,763.8 1002.93,733.6 1006.48,720.8 1010.03,714.4 1013.58,718.4 1017.13,722.0 1020.68,706.0 1024.23,710.8 1027.78,713.6 1031.33,714.9 1034.88,679.9 1038.43,677.6 1041.98,675.2 1045.53,672.4 1049.08,661.5 1052.63,673.1 1056.18,664.0 1059.73,666.9 1063.28,674.4 1066.83,674.9 1070.38,667.7 1073.93,672.7 1077.48,678.7 1081.04,677.3 1084.59,657.6 1088.14,658.4 1091.69,661.6 1095.24,662.4 1098.79,664.0 1102.34,668.3 1105.89,670.0 1109.44,669.3 1112.99,686.0 1116.54,687.3 1120.09,688.7 1123.64,690.0 1127.19,686.7 1130.74,689.1 1134.29,680.7 1137.84,682.4 1141.39,686.7 1144.94,670.7 1148.49,654.9 1152.04,654.4 1155.59,648.3 1159.14,649.6 1162.69,651.3 1166.24,644.0 1169.79,633.6 1173.34,643.7 1176.89,640.6 1180.44,645.5 1183.99,642.8 1187.54,651.7 1191.09,654.3 1194.64,654.3 1198.20,654.3 1201.75,637.3 1205.30,628.6 1208.85,631.9 1212.40,606.7 1215.95,597.7 1219.50,602.0 1223.05,606.9 1226.60,602.3 1230.15,609.5 1233.70,619.4 1237.25,624.0 1240.80,630.9 1244.35,631.2 1247.90,639.1 1251.45,630.9 1255.00,628.6 1258.55,632.9 1262.10,631.5 1265.65,642.0 1269.20,651.4 1272.75,654.0 1276.30,672.4 1279.85,660.4 1283.40,647.1 1286.95,649.3 1290.50,675.7 1294.05,676.0 1297.60,678.6 1301.15,666.6 1304.70,684.6 1308.25,692.7 1311.80,682.5 1315.36,674.4 1318.91,672.2 1322.46,680.0 1326.01,682.2 1329.56,670.0 1333.11,673.9 1336.66,673.9 1340.21,650.6 1343.76,636.7 1347.31,626.1 1350.86,631.1 1354.41,627.8 1357.96,624.8 1361.51,641.9 1365.06,647.0 1368.61,641.7 1372.16,649.7 1375.71,641.7 1379.26,642.2 1382.81,651.4 1386.36,656.3 1389.91,658.3 1393.46,660.0 1397.01,664.4 1400.56,688.9 1404.11,684.8 1407.66,680.6 1411.21,687.8 1414.76,695.0 1418.31,686.1 1421.86,684.4 1425.41,670.6 1428.96,671.1 1432.51,656.3 1436.07,653.9 1439.62,652.2 1443.17,658.9 1446.72,659.7 1450.27,661.5 1453.82,669.2 1457.37,660.3 1460.92,661.1 1464.47,649.6 1468.02,653.7 1471.57,652.5 1475.12,660.7 1478.67,656.0 1482.22,661.1 1485.77,669.2 1489.32,677.4 1492.87,674.7 1496.42,670.9 1499.97,672.3 1503.52,678.2 1507.07,665.0 1510.62,677.0 1514.17,687.9 1517.72,681.7 1521.27,687.9 1524.82,697.6 1528.37,696.1" fill="none" stroke="#2941c6" stroke-width="2" stroke-linejoin="round"/>
</svg>
</body></html>
